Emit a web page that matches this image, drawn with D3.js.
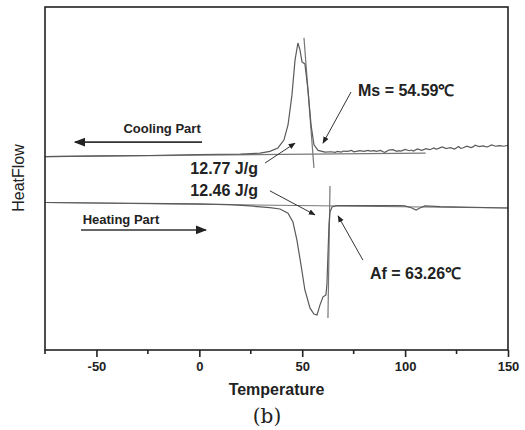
<!DOCTYPE html>
<html>
<head>
<meta charset="utf-8">
<script src="https://cdn.jsdelivr.net/npm/d3@7"></script>
<style>
body{margin:0;background:#fff;}
svg text{font-family:Arial,"Liberation Sans",sans-serif;}
</style>
</head>
<body>
<svg width="525" height="430"></svg>
<script>
// DSC curves, temperature (C) vs heat flow (arbitrary units)
var coolingT = [-75,-48,-24,0,20,29.5,34.3,38.2,41.1,43.1,45,46.5,47.9,48.9,49.9,51.3,52.8,54.3,55.7,57.7,61.1,
	64,66,67,69,70,72,74,75,77,78,80,82,83,85,86,88,90,91,92,94,96,97,98,100,102,103,104,106,108,109,110,112,114,115,116,118,120,121,122,124,126,127,128,130,132,133,134,136,138,139,140,142,144,145,146,148,150];
var coolingV = [56.4,56.6,56.7,57.0,57.1,57.4,57.9,58.9,61.2,65.6,74.3,84.5,89.5,87.5,84.0,83.4,75.8,65.6,59.8,58.2,57.7,
	57.8,57.6,57.9,57.7,58.0,57.9,58.2,57.8,58.0,58.1,57.9,58.2,58.0,58.1,57.9,58.2,57.6,57.9,58.3,58.4,57.9,58.1,58.0,58.5,58.1,58.3,58.0,58.6,58.2,58.4,58.7,58.4,58.9,58.6,58.7,59.2,58.7,58.9,59.0,58.6,59.3,58.8,58.9,59.4,59.0,59.2,59.7,59.3,59.5,59.3,59.2,59.8,59.4,59.5,59.6,59.4,59.7];

var heatingT = [-75,0,14.9,24.6,34.3,39.2,43.1,45.5,47.4,49.4,51.3,53.8,55.7,57.2,58.6,60.1,61.5,62,62.5,63,63.5,64.5,66.4,70.8,82.9,97.5,99.9,103.3,105.3,107.2,109.6,117,150];
var heatingV = [43.0,42.6,42.4,42.0,41.5,41.1,39.9,37.3,32.1,24.8,17.5,12.2,10.5,10.2,13.1,15.5,16.0,19.0,27.7,36.4,40.2,41.7,42.1,42.1,42.1,42.1,42.0,41.4,40.8,41.4,42.0,41.8,41.4];

// straight construction lines: baselines and onset tangents
var coolBaseT = [-75,110], coolBaseV = [56.4,57.4];
var heatBaseT = [-75,150], heatBaseV = [43.0,41.4];
var coolTanT = [50.85,55.7], coolTanV = [91.0,53.1];
var heatTanT = [63.5,62.5], heatTanV = [47.8,9.3];

// labels and arrows (text position, arrow from, arrow to)
var labels = ['Ms = 54.59\u2103','12.77 J/g','12.46 J/g','Af = 63.26\u2103','Cooling Part','Heating Part'];
var labelT = [77.1,28.5,28.5,82.9,-18.1,-38.1];
var labelV = [75.8,53.1,46.6,22.4,64.7,38.2];
var arrowFrom = [[73.7,75.2],[31.9,54.5],[34.3,46.4],[79.5,26.2],[1.3,60.6],[-57.5,35.0]];
var arrowTo = [[60.1,60.3],[46.5,60.3],[56.2,39.4],[67.4,39.1],[-60.4,60.6],[3.2,35.0]];

var xTicks = [-50,0,50,100,150];
var xMinor = [-75,-25,25,75,125];

var svg = d3.select('svg');
var margin = {left:45,right:17,top:7,bottom:80};
var W = 525, H = 430;

var x = d3.scaleLinear().domain([-75,150]).range([margin.left,W-margin.right]);
var y = d3.scaleLinear().domain([0,100]).range([H-margin.bottom,margin.top]);

svg.append('defs').append('marker').attr('id','head').attr('viewBox','0 0 10 10')
	.attr('refX',9).attr('refY',5).attr('markerWidth',7).attr('markerHeight',7).attr('orient','auto')
	.append('path').attr('d','M0,1 L10,5 L0,9 Z').attr('fill','#222');

var line = d3.line().x(function(d){return x(d[0])}).y(function(d){return y(d[1])});
function zip(a,b){return a.map(function(v,i){return [v,b[i]]})}

// construction lines first, then curves on top
[[coolBaseT,coolBaseV],[heatBaseT,heatBaseV],[coolTanT,coolTanV],[heatTanT,heatTanV]].forEach(function(s){
	svg.append('path').attr('d',line(zip(s[0],s[1]))).attr('fill','none').attr('stroke','#777').attr('stroke-width',1.2)
})
svg.append('path').attr('d',line(zip(coolingT,coolingV))).attr('fill','none').attr('stroke','#5a5a5a').attr('stroke-width',1.2)
svg.append('path').attr('d',line(zip(heatingT,heatingV))).attr('fill','none').attr('stroke','#5a5a5a').attr('stroke-width',1.2)

//frame
svg.append('rect').attr('x',x.range()[0]).attr('y',y.range()[1]).attr('width',x.range()[1]-x.range()[0])
	.attr('height',y.range()[0]-y.range()[1]).attr('fill','none').attr('stroke','#222').attr('stroke-width',1.6)

//x axis
var ax = svg.append('g').attr('transform','translate(0,'+y.range()[0]+')');
ax.call(d3.axisBottom(x).tickValues(xTicks).tickSize(7).tickPadding(5).tickFormat(function(d){return String(d)}))
ax.select('.domain').remove();
ax.selectAll('line').attr('stroke','#222').attr('stroke-width',1.6)
ax.selectAll('text').attr('font-size',13).attr('font-weight','bold').attr('fill','#222')
	.attr('font-family','Arial,"Liberation Sans",sans-serif')
ax.selectAll('.minor').data(xMinor).enter().append('line').attr('class','minor')
	.attr('x1',function(d){return x(d)}).attr('x2',function(d){return x(d)}).attr('y1',0).attr('y2',4)
	.attr('stroke','#222').attr('stroke-width',1.6)

svg.append('text').attr('x',(x.range()[0]+x.range()[1])/2).attr('y',395).attr('text-anchor','middle')
	.attr('font-size',16).attr('font-weight','bold').attr('fill','#222').text('Temperature')
svg.append('text').attr('transform','translate(24,178) rotate(-90)').attr('text-anchor','middle')
	.attr('font-size',16).attr('fill','#222').text('HeatFlow')
svg.append('text').attr('x',267).attr('y',423).attr('text-anchor','middle')
	.attr('font-size',20).attr('fill','#222').style('font-family','"DejaVu Serif",serif').text('(b)')

//arrows and annotations
labels.forEach(function(t,i){
	svg.append('line').attr('x1',x(arrowFrom[i][0])).attr('y1',y(arrowFrom[i][1]))
		.attr('x2',x(arrowTo[i][0])).attr('y2',y(arrowTo[i][1]))
		.attr('stroke','#333').attr('stroke-width',i>3 ? 1.6 : 1).attr('marker-end','url(#head)')
	var anchor = (i==1||i==2) ? 'end' : (i>3 ? 'middle' : 'start');
	svg.append('text').attr('x',x(labelT[i])).attr('y',y(labelV[i])).attr('dy','0.36em')
		.attr('text-anchor',anchor).attr('font-size',i>3 ? 13 : 16).attr('font-weight','bold')
		.attr('fill','#222').text(t)
})
</script>
</body>
</html>
